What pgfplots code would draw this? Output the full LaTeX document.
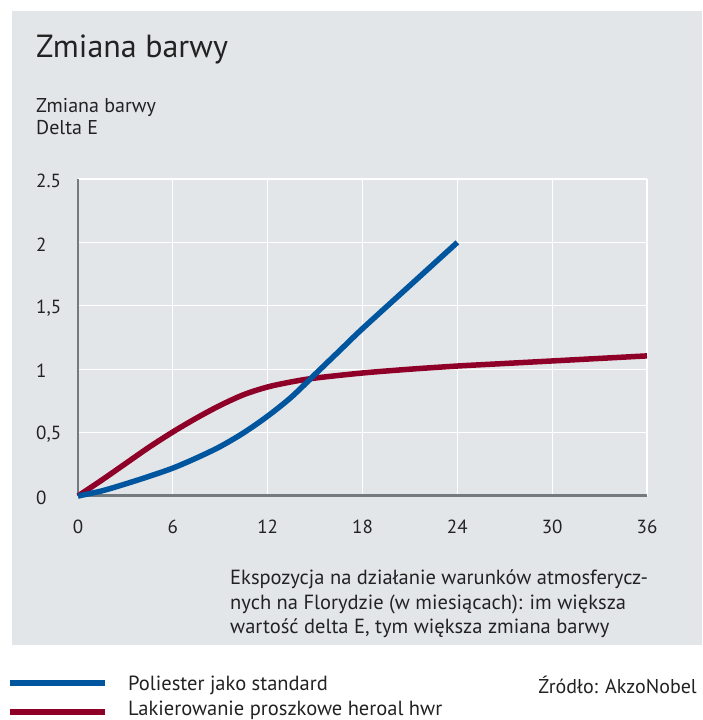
\documentclass[border=0pt]{standalone}
\usepackage{pgfplots}
\pgfplotsset{compat=1.18}
\usepackage{fontspec}
\setmainfont{PT Sans}
\definecolor{bg}{HTML}{E3E6E9}
\definecolor{axgray}{HTML}{737B81}
\definecolor{cblue}{HTML}{00559F}
\definecolor{cred}{HTML}{8F0029}
\definecolor{txt}{HTML}{222222}
\begin{document}
\begin{tikzpicture}[x=1pt,y=1pt]
\useasboundingbox (0,0) rectangle (702,720);
\clip (0,0) rectangle (702,720);
\fill[bg] (12,75) rectangle (702,709);
\node[anchor=base west, inner sep=0, font=\fontsize{32}{36}\selectfont, text=txt] at (36,662) {Zmiana barwy};
\node[anchor=base west, inner sep=0, font=\fontsize{20}{22}\selectfont, text=txt] at (36,607) {Zmiana barwy};
\node[anchor=base west, inner sep=0, font=\fontsize{20}{22}\selectfont, text=txt] at (36,585) {Delta E};
\begin{axis}[
  at={(78pt,224pt)}, anchor=south west,
  scale only axis, width=569pt, height=317pt,
  xmin=0, xmax=36, ymin=0, ymax=2.5,
  xtick={0,6,12,18,24,30,36},
  ytick={0,0.5,1,1.5,2,2.5},
  xticklabels={0,6,12,18,24,30,36},
  yticklabels={0,{0,5},1,{1,5},2,2.5},
  grid=major,
  major grid style={white, line width=1.3pt},
  axis x line*=bottom, axis y line*=left,
  x axis line style={-, line width=3pt, color=axgray},
  y axis line style={-, line width=2pt, color=axgray},
  major tick length=0pt,
  tick style={draw=none},
  ticklabel style={font=\fontsize{19}{20}\selectfont, text=txt},
  yticklabel style={anchor=west, inner sep=0pt, xshift=-42pt, yshift=-2pt},
  xticklabel style={anchor=north, inner sep=0pt, yshift=-24pt},
  clip=false,
]
\addplot[cred, line width=5.5pt, smooth] coordinates {
(0,0) (1.5,0.125) (3,0.255) (4.5,0.385) (6,0.505) (7.5,0.615) (9,0.715) (10.5,0.80) (12,0.86) (13.5,0.90) (15,0.93) (18,0.97) (21,1.0) (24,1.025) (27,1.045) (30,1.065) (33,1.085) (36,1.105)
};
\addplot[cblue, line width=5.5pt, smooth] coordinates {
(0,0) (1.5,0.04) (3,0.095) (4.5,0.155) (6,0.22) (7.5,0.30) (9,0.39) (10.5,0.50) (12,0.63) (13.5,0.78) (15,0.96) (16.5,1.14) (18,1.32) (21,1.66) (24,2.0)
};
\end{axis}
\node[anchor=base west, inner sep=0, font=\fontsize{20.5}{22}\selectfont, text=txt] at (230,135) {Ekspozycja na działanie warunków atmosferycz-};
\node[anchor=base west, inner sep=0, font=\fontsize{20.5}{22}\selectfont, text=txt] at (230,110) {nych na Florydzie (w miesiącach): im większa};
\node[anchor=base west, inner sep=0, font=\fontsize{20.5}{22}\selectfont, text=txt] at (230,86) {wartość delta E, tym większa zmiana barwy};
\draw[cblue, line width=6pt] (10,37) -- (105,37);
\draw[cred, line width=6pt] (10,8) -- (105,8);
\node[anchor=base west, inner sep=0, font=\fontsize{20.5}{22}\selectfont, text=txt] at (128,29) {Poliester jako standard};
\node[anchor=base west, inner sep=0, font=\fontsize{20.5}{22}\selectfont, text=txt] at (128,5) {Lakierowanie proszkowe heroal hwr};
\node[anchor=base east, inner sep=0, font=\fontsize{20}{22}\selectfont, text=txt] at (697,27) {Źródło: AkzoNobel};
\end{tikzpicture}
\end{document}
